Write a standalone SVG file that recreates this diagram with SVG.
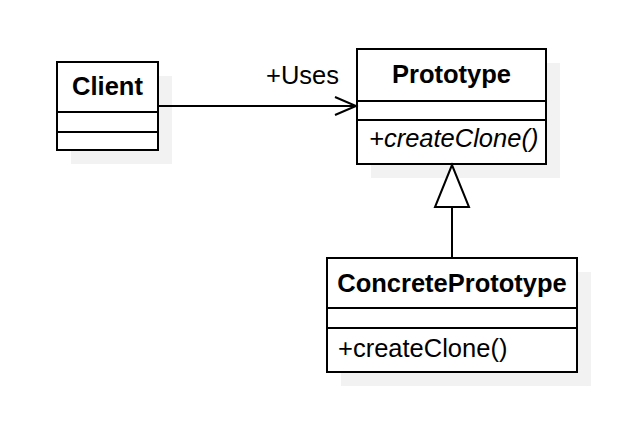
<svg xmlns="http://www.w3.org/2000/svg" width="618" height="422" viewBox="0 0 618 422">
<style>
.shadow{fill:#f2f2f2;stroke:none}
.box{fill:#ffffff;stroke:#000000;stroke-width:2}
.sep{stroke:#000000;stroke-width:2}
.name{font-family:"Liberation Sans",Arial,sans-serif;font-size:25.5px;font-weight:bold;text-anchor:middle;fill:#000}
.op{font-family:"Liberation Sans",Arial,sans-serif;font-size:25.5px;fill:#000}
.conn{fill:none;stroke:#000;stroke-width:2}
</style>
<rect width="618" height="422" fill="#ffffff"/>
<g id="Client">
<rect class="shadow" x="71" y="76" width="101" height="88"/>
<rect class="box" x="57" y="62" width="101" height="88"/>
<line class="sep" x1="57" y1="112" x2="158" y2="112"/>
<line class="sep" x1="57" y1="132" x2="158" y2="132"/>
<text class="name" x="107.5" y="95">Client</text>
</g>
<g id="Prototype">
<rect class="shadow" x="371" y="63" width="189" height="115"/>
<rect class="box" x="357" y="49" width="189" height="115"/>
<line class="sep" x1="357" y1="101" x2="546" y2="101"/>
<line class="sep" x1="357" y1="120" x2="546" y2="120"/>
<text class="name" x="451.5" y="83">Prototype</text>
<text class="op" x="369" y="147" font-style="italic">+createClone()</text>
</g>
<g id="ConcretePrototype">
<rect class="shadow" x="341" y="272" width="250" height="114"/>
<rect class="box" x="327" y="258" width="250" height="114"/>
<line class="sep" x1="327" y1="308" x2="577" y2="308"/>
<line class="sep" x1="327" y1="328" x2="577" y2="328"/>
<text class="name" x="452" y="292">ConcretePrototype</text>
<text class="op" x="338" y="357">+createClone()</text>
</g>
<g id="connectors">
<line class="conn" x1="158" y1="106" x2="356" y2="106"/>
<polyline class="conn" points="335,97 356,106 335,115"/>
<text class="op" x="339" y="84" text-anchor="end">+Uses</text>
<line class="conn" x1="452" y1="207" x2="452" y2="258"/>
<polygon class="conn" points="452,165 435,207 469,207" style="fill:#fff"/>
</g>
</svg>
